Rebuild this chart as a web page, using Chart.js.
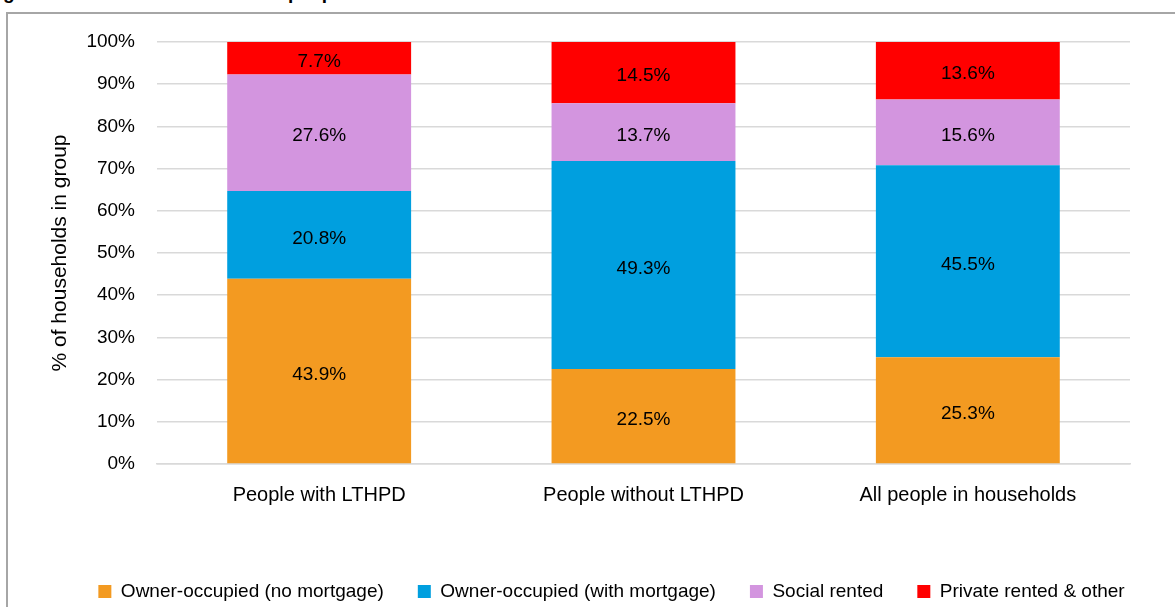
<!DOCTYPE html>
<html>
<head>
<meta charset="utf-8">
<script src="https://cdn.jsdelivr.net/npm/chart.js@4.4.1/dist/chart.umd.min.js"></script>
<style>
  html, body { margin: 0; padding: 0; background: #fff; overflow: hidden; }
  #wrap { position: relative; width: 1175px; height: 607px; }
  #heading {
    position: absolute; left: -14px; top: -17px; white-space: nowrap;
    font: bold 19px "Liberation Sans", Arial, sans-serif; line-height: 20px; color: #000;
  }
  #frame {
    position: absolute; left: 6px; top: 12px; width: 1300px; height: 700px;
    border-left: 2px solid #a6a6a6; border-top: 2px solid #a6a6a6;
  }
  canvas { position: absolute; left: 0; top: 0; }
</style>
</head>
<body>
<div id="wrap">
  <div id="heading">Figure 3.12: Household tenure of people with and without LTHPD</div>
  <div id="frame"></div>
  <canvas id="tenureChart" width="1175" height="607"></canvas>
</div>
<script>
// groups along the x axis
const groups = ["People with LTHPD", "People without LTHPD", "All people in households"];

// tenure shares, % of households in each group
const ownedOutright = [43.9, 22.5, 25.3];
const ownedMortgage = [20.8, 49.3, 45.5];
const socialRented = [27.6, 13.7, 15.6];
const privateRented = [7.7, 14.5, 13.6];

const tenureNames = [
  "Owner-occupied (no mortgage)",
  "Owner-occupied (with mortgage)",
  "Social rented",
  "Private rented & other"
];
const tenureColours = ["#F39A21", "#009FDF", "#D395DF", "#FF0000"];

// y axis ticks, 0% to 100%
const yTicks = [0, 10, 20, 30, 40, 50, 60, 70, 80, 90, 100];

const FONT = '"Liberation Sans", Arial, sans-serif';

// write the value in the middle of every bar segment
const segmentLabels = {
  id: "segmentLabels",
  afterDatasetsDraw(chart) {
    const ctx = chart.ctx;
    ctx.save();
    ctx.font = "19px " + FONT;
    ctx.fillStyle = "#000";
    ctx.textAlign = "center";
    ctx.textBaseline = "middle";
    chart.data.datasets.forEach((ds, i) => {
      chart.getDatasetMeta(i).data.forEach((bar, j) => {
        const p = bar.getProps(["x", "y", "base"], true);
        ctx.fillText(ds.data[j].toFixed(1) + "%", p.x, (p.y + p.base) / 2 + 3.5);
      });
    });
    ctx.restore();
  }
};

const seriesValues = [ownedOutright, ownedMortgage, socialRented, privateRented];

new Chart(document.getElementById("tenureChart"), {
  type: "bar",
  data: {
    labels: groups,
    datasets: seriesValues.map((vals, i) => ({
      label: tenureNames[i],
      data: vals,
      backgroundColor: tenureColours[i],
      borderWidth: 0,
      barPercentage: 0.567,
      categoryPercentage: 1
    }))
  },
  options: {
    responsive: false,
    animation: false,
    layout: { padding: { left: 48, right: 0, top: 42, bottom: -4 } },
    plugins: {
      tooltip: { enabled: false },
      legend: {
        position: "bottom",
        labels: {
          color: "#000",
          font: { family: FONT, size: 19 },
          boxWidth: 13,
          boxHeight: 13,
          padding: 34
        }
      }
    },
    scales: {
      x: {
        stacked: true,
        grid: { display: false, drawTicks: false },
        border: { color: "#d9d9d9", width: 1.5 },
        ticks: { color: "#000", font: { family: FONT, size: 20 }, padding: 19 },
        afterFit: s => { s.height = 84; }
      },
      y: {
        stacked: true,
        min: 0,
        max: 100,
        afterBuildTicks: s => { s.ticks = yTicks.map(v => ({ value: v })); },
        grid: { color: "#d9d9d9", lineWidth: 1.5, drawTicks: false },
        border: { display: false },
        ticks: {
          color: "#000",
          font: { family: FONT, size: 19 },
          padding: 22,
          callback: v => v + "%"
        },
        title: {
          display: true,
          text: "% of households in group",
          color: "#000",
          font: { family: FONT, size: 21 },
          padding: 0
        },
        afterFit: s => { s.width = 109; }
      },
      yRight: {
        position: "right",
        display: true,
        grid: { display: false, drawTicks: false },
        border: { display: false },
        ticks: { display: false },
        afterFit: s => { s.width = 45; }
      }
    }
  },
  plugins: [segmentLabels]
});
</script>
</body>
</html>
